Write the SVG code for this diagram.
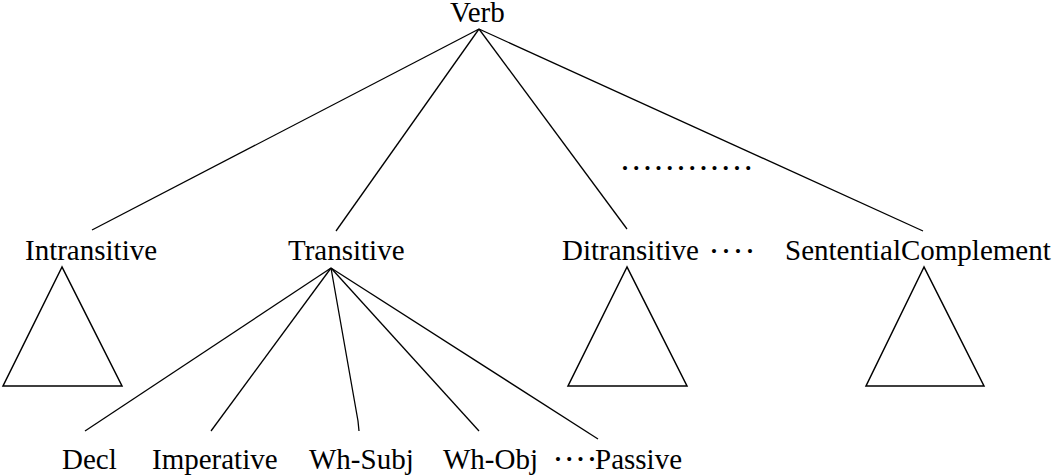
<svg xmlns="http://www.w3.org/2000/svg" width="1055" height="476" viewBox="0 0 1055 476">
<style>
text{font-family:"Liberation Serif","Times New Roman",serif;font-size:29px;fill:#000}
text.d{font-size:17px}
.e{stroke:#000;stroke-width:1.3;fill:none}
.t{stroke:#000;stroke-width:1.5;fill:#fff;stroke-linejoin:miter}
</style>
<rect width="1055" height="476" fill="#fff"/>
<g id="connectors">
<line class="e" x1="479" y1="29" x2="92" y2="230"/>
<line class="e" x1="479" y1="29" x2="336" y2="231"/>
<line class="e" x1="479" y1="29" x2="627" y2="229"/>
<line class="e" x1="479" y1="29" x2="923" y2="231"/>
<line class="e" x1="331" y1="268" x2="85" y2="431"/>
<line class="e" x1="331" y1="268" x2="211" y2="431"/>
<polyline class="e" points="331,268 358,421 359,431"/>
<line class="e" x1="331" y1="268" x2="479" y2="431"/>
<line class="e" x1="331" y1="268" x2="598" y2="439"/>
</g>
<g id="verb"><text x="450" y="22">Verb</text></g>
<g id="intransitive">
<text x="25" y="260">Intransitive</text>
<polygon class="t" points="62,267 3,386 122,386"/>
</g>
<g id="transitive"><text x="288" y="260">Transitive</text></g>
<g id="ditransitive">
<text x="562" y="260">Ditransitive</text>
<text class="d" x="711 723 735 747" y="257">••••</text>
<polygon class="t" points="627,267 568,386 687,386"/>
</g>
<g id="more"><text class="d" x="622 633.2 644.4 655.6 666.8 678 689.2 700.4 711.6 722.8 734 745.2" y="174">••••••••••••</text></g>
<g id="sentential">
<text x="785" y="260">SententialComplement</text>
<polygon class="t" points="924,267 866,386 984,386"/>
</g>
<g id="decl"><text x="62" y="469">Decl</text></g>
<g id="imperative"><text x="152" y="469">Imperative</text></g>
<g id="whsubj"><text x="309" y="469">Wh-Subj</text></g>
<g id="whobj"><text x="443" y="469">Wh-Obj</text></g>
<g id="passive">
<text class="d" x="555 566.3 577.6 589" y="465">••••</text>
<text x="595" y="469">Passive</text>
</g>
</svg>
